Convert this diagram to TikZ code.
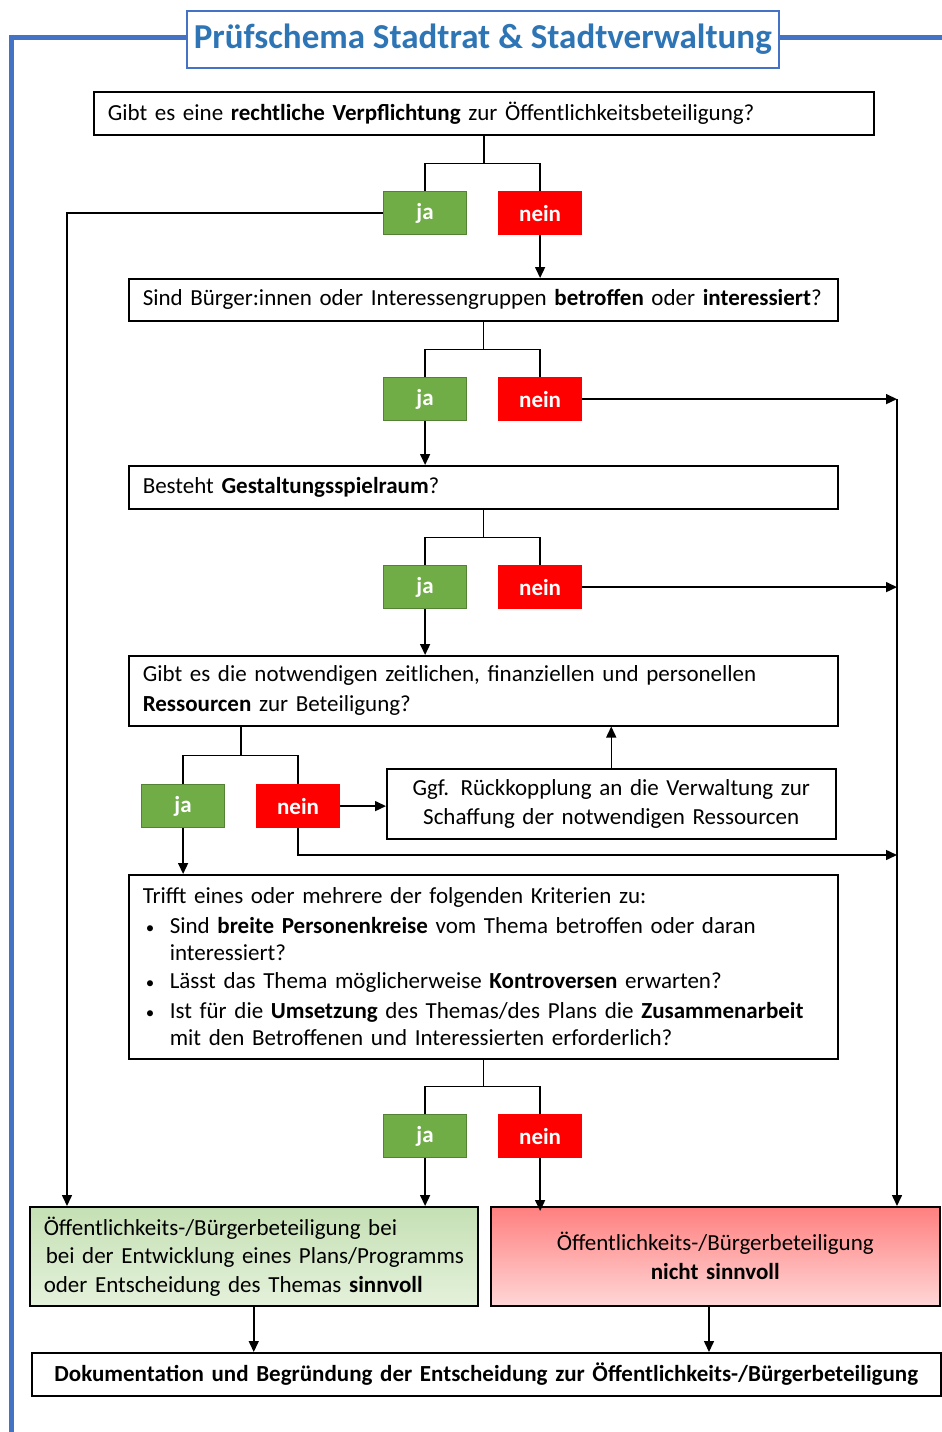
\documentclass[tikz,border=0pt]{standalone}
\usepackage{fontspec}
\setmainfont{Carlito}
\usetikzlibrary{arrows.meta,positioning}
\definecolor{jagreen}{HTML}{70AD47}
\definecolor{jaborder}{HTML}{548235}
\definecolor{neinred}{HTML}{FF0000}
\definecolor{frameblue}{HTML}{4472C4}
\definecolor{titleblue}{HTML}{2E75B6}
\definecolor{gtop}{HTML}{C5E0B4}
\definecolor{gbot}{HTML}{E4F1DB}
\definecolor{rtop}{HTML}{FF7F7F}
\definecolor{rbot}{HTML}{FFD6D6}
\tikzset{
  qbox/.style={draw=black, line width=1.5pt, inner xsep=14pt, inner ysep=0pt, align=left, anchor=north west, fill=white,
    font=\fontsize{23}{29}\selectfont},
  jabox/.style={fill=jagreen, draw=jaborder, line width=1.2pt, minimum width=83pt, minimum height=43pt, inner sep=0pt,
    text=white, font=\fontsize{23}{26}\selectfont\bfseries, anchor=north west},
  neinbox/.style={jabox, fill=neinred, draw=neinred},
  conn/.style={line width=1.5pt, draw=black},
  arr/.style={conn, -{Triangle[length=11pt,width=10pt]}}
}
\newcommand{\blt}{\hspace*{3pt}\makebox[24pt][l]{\fontsize{17}{17}\selectfont •}}
\begin{document}
\begin{tikzpicture}[x=1pt,y=-1pt]
\useasboundingbox (0,0) rectangle (942,1432);
% frame line
\draw[frameblue, line width=5pt] (11,1432) -- (11,37) -- (942,37);
\node[draw=frameblue, line width=1.5pt, fill=white, minimum width=592pt, minimum height=57pt, inner sep=0pt,
  anchor=north west, text=titleblue, font=\fontsize{35}{40}\selectfont\bfseries] (title) at (186,10)
  {Prüfschema Stadtrat \& Stadtverwaltung};

% Box 1
\node[qbox, minimum width=780pt, minimum height=43pt, text width=752pt] (b1) at (93,91)
  {Gibt es eine \textbf{rechtliche Verpflichtung} zur Öffentlichkeitsbeteiligung?};
\node[jabox] (ja1) at (383,191) {ja};
\node[neinbox] (nein1) at (498,191) {nein};

% Box 2
\node[qbox, minimum width=709pt, minimum height=42pt, text width=681pt] (b2) at (128,278)
  {Sind Bürger:innen oder Interessengruppen \textbf{betroffen} oder \textbf{interessiert}?};
\node[jabox] (ja2) at (383,377) {ja};
\node[neinbox] (nein2) at (498,377) {nein};

% Box 3
\node[qbox, minimum width=709pt, minimum height=43pt, text width=681pt] (b3) at (128,465)
  {Besteht \textbf{Gestaltungsspielraum}?};
\node[jabox] (ja3) at (383,565) {ja};
\node[neinbox] (nein3) at (498,565) {nein};

% Box 4
\node[qbox, minimum width=709pt, minimum height=70pt, text width=681pt, font=\fontsize{23}{30}\selectfont] (b4) at (128,655)
  {Gibt es die notwendigen zeitlichen, finanziellen und personellen\\\textbf{Ressourcen} zur Beteiligung?};
\node[jabox] (ja4) at (141,784) {ja};
\node[neinbox] (nein4) at (256,784) {nein};
\node[qbox, align=center, inner xsep=0pt, minimum width=449pt, minimum height=70pt, text width=449pt] (rk) at (386,768)
  {Ggf. Rückkopplung an die Verwaltung zur\\Schaffung der notwendigen Ressourcen};

% Box 5
\node[qbox, minimum width=709pt, minimum height=184pt, text width=681pt, font=\fontsize{23}{27}\selectfont] (b5) at (128,874)
  {Trifft eines oder mehrere der folgenden Kriterien zu:\\[3pt]
   \blt Sind \textbf{breite Personenkreise} vom Thema betroffen oder daran\\
   \hspace*{27pt}interessiert?\\[1pt]
   \blt Lässt das Thema möglicherweise \textbf{Kontroversen} erwarten?\\[3pt]
   \blt Ist für die \textbf{Umsetzung} des Themas/des Plans die \textbf{Zusammenarbeit}\\
   \hspace*{27pt}mit den Betroffenen und Interessierten erforderlich?};
\node[jabox] (ja5) at (383,1114) {ja};
\node[neinbox] (nein5) at (498,1114) {nein};

% Result boxes
\node[qbox, top color=gtop, bottom color=gbot, minimum width=448pt, minimum height=99pt, text width=420pt,
  font=\fontsize{23}{28.5}\selectfont] (gbox) at (29,1206)
  {\mbox{Öffentlichkeits-/Bürgerbeteiligung bei}\\\mbox{\hspace*{2pt}bei der Entwicklung eines Plans/Programms}\\\mbox{oder Entscheidung des Themas \textbf{sinnvoll}}};
\node[qbox, top color=rtop, bottom color=rbot, align=center, inner xsep=0pt, minimum width=449pt, minimum height=99pt, text width=449pt] (rbox) at (490,1206)
  {Öffentlichkeits-/Bürgerbeteiligung\\\textbf{nicht sinnvoll}};

% Documentation
\node[qbox, align=center, inner xsep=0pt, minimum width=909pt, minimum height=43pt, text width=909pt] (doc) at (31,1352)
  {\textbf{Dokumentation und Begründung der Entscheidung zur Öffentlichkeits-/Bürgerbeteiligung}};

% side rails
\coordinate (gl) at (67,1206);
\coordinate (rl) at (897,1206);
\coordinate (r4) at (897,855);

% branches
\draw[conn] (b1.south) -- ++(0,28) coordinate (t1);
\draw[conn] (ja1.north) |- (t1) -| (nein1.north);
\draw[conn] (b2.south) -- ++(0,28) coordinate (t2);
\draw[conn] (ja2.north) |- (t2) -| (nein2.north);
\draw[conn] (b3.south) -- ++(0,28) coordinate (t3);
\draw[conn] (ja3.north) |- (t3) -| (nein3.north);
\draw[conn] (b4.south -| 241,0) -- ++(0,29) coordinate (t4);
\draw[conn] (ja4.north) |- (t4) -| (nein4.north);
\draw[conn] (b5.south) -- ++(0,27) coordinate (t5);
\draw[conn] (ja5.north) |- (t5) -| (nein5.north);

% flow arrows
\draw[arr] (ja1.west) -| (gl);
\draw[arr] (nein1.south) -- (nein1.south |- b2.north);
\draw[arr] (ja2.south) -- (ja2.south |- b3.north);
\draw[arr] (nein2.east) -- (nein2.east -| rl);
\draw[arr] (nein2.east -| rl) -- (rl);
\draw[arr] (ja3.south) -- (ja3.south |- b4.north);
\draw[arr] (nein3.east) -- (nein3.east -| rl);
\draw[arr] (nein4.east) -- (rk.west |- nein4.east);
\draw[arr] (rk.north) -- (rk.north |- b4.south);
\draw[arr] (nein4.south) |- (r4);
\draw[arr] (ja4.south) -- (ja4.south |- b5.north);
\draw[arr] (ja5.south) -- (ja5.south |- gbox.north);
\draw[arr] (nein5.south) -- ([yshift=-5pt]nein5.south |- rbox.north);
\draw[arr] (gbox.south) -- (gbox.south |- doc.north);
\draw[arr] (rbox.south -| 709,0) -- (709,1352);
\end{tikzpicture}
\end{document}
